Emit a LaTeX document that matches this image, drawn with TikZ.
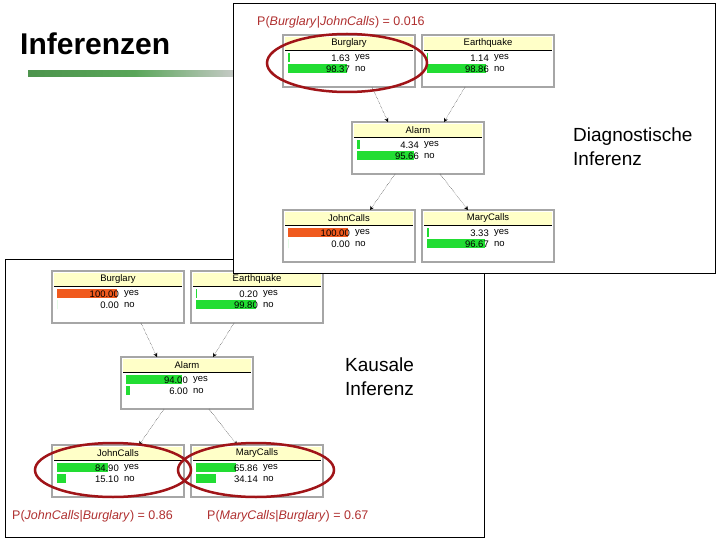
\documentclass[tikz,border=0pt]{standalone}
\usepackage{fontspec}
\setmainfont{Liberation Sans}
\usetikzlibrary{arrows.meta}
\definecolor{hdr}{HTML}{FFFFC8}
\definecolor{bargreen}{HTML}{22DD33}
\definecolor{barorange}{HTML}{F05A1E}
\definecolor{dred}{HTML}{A01418}
\definecolor{lblred}{HTML}{B03030}
\tikzset{
  bnbox/.style={draw=gray!70,line width=1.5pt,fill=white,minimum width=132pt,minimum height=52pt,inner sep=0pt,outer sep=0pt},
  nt/.style={font=\fontsize{9.5}{10}\selectfont,inner sep=0pt},
  conn/.style={densely dotted,thin,-{Stealth[length=4pt,width=4pt]}},
  ell/.style={draw=dred,line width=2.5pt},
  prob/.style={text=lblred,font=\fontsize{12.5}{14}\selectfont,anchor=west,inner sep=0pt},
  big/.style={font=\fontsize{19}{24}\selectfont,align=left,anchor=north west,inner sep=0pt},
  panel/.style={draw=black,line width=1.3pt,fill=white}
}
\newcommand{\bn}[9]{%
  \node[bnbox,anchor=north west] (#1) at (#2,#3) {};
  \fill[hdr] ([shift={(2,2)}]#1.north west) rectangle ([shift={(-2,15)}]#1.north east);
  \draw[black,thin] ([shift={(2,15)}]#1.north west) -- ([shift={(-2,15)}]#1.north east);
  \node[nt] at ([yshift=-8.5pt]#1.north) {#4};
  \fill[#7] ([shift={(5,18)}]#1.north west) rectangle ++(#6,9);
  \node[nt,anchor=east] at ([shift={(67,23)}]#1.north west) {#5};
  \node[nt,anchor=west] at ([shift={(72,23)}]#1.north west) {yes};
  \fill[bargreen] ([shift={(5,29)}]#1.north west) rectangle ++(#9,9);
  \node[nt,anchor=east] at ([shift={(67,34)}]#1.north west) {#8};
  \node[nt,anchor=west] at ([shift={(72,34)}]#1.north west) {no};
}
\begin{document}
\begin{tikzpicture}[x=1pt,y=-1pt]
\useasboundingbox[fill=white] (0,0) rectangle (720,540);
% title
\node[font=\fontsize{30}{34}\selectfont\bfseries,anchor=west,inner sep=0pt] (title) at (20,44) {Inferenzen};
\fill[left color=green!40!black!70,right color=gray!40,middle color=green!30!gray] (28,71) rectangle (240,77);
% bottom panel
\node[panel,anchor=north west,minimum width=479pt,minimum height=278pt,inner sep=0pt] (pb) at (5,259) {};
\bn{Bk}{52}{271}{Burglary}{100.00}{60}{barorange}{0.00}{0}
\bn{Ek}{191}{271}{Earthquake}{0.20}{1}{bargreen}{99.80}{60}
\bn{Ak}{121}{357}{Alarm}{94.00}{56}{bargreen}{6.00}{4}
\bn{Jk}{52}{445}{JohnCalls}{84.90}{51}{bargreen}{15.10}{9}
\bn{Mk}{191}{445}{MaryCalls}{65.86}{40}{bargreen}{34.14}{20}
\draw[conn] ([xshift=23pt]Bk.south) -- ([xshift=-30pt]Ak.north);
\draw[conn] ([xshift=-23pt]Ek.south) -- ([xshift=26pt]Ak.north);
\draw[conn] ([xshift=-23pt]Ak.south) -- ([xshift=21pt]Jk.north);
\draw[conn] ([xshift=22pt]Ak.south) -- ([xshift=-20pt]Mk.north);
\node[big] (kt) at (345,358) {Kausale\\Inferenz};
\draw[ell] (113,470) ellipse [x radius=78,y radius=27];
\draw[ell] (256,470) ellipse [x radius=78,y radius=27];
\node[prob] (pj) at (12,516) {P(\textit{JohnCalls}|\textit{Burglary}) = 0.86};
\node[prob] (pm) at (207,516) {P(\textit{MaryCalls}|\textit{Burglary}) = 0.67};
% top panel
\node[panel,anchor=north west,minimum width=482pt,minimum height=270pt,inner sep=0pt] (pt) at (233,3) {};
\bn{Bd}{283}{35}{Burglary}{1.63}{2}{bargreen}{98.37}{59}
\bn{Ed}{422}{35}{Earthquake}{1.14}{1}{bargreen}{98.86}{59}
\bn{Ad}{352}{122}{Alarm}{4.34}{3}{bargreen}{95.66}{57}
\bn{Jd}{283}{210}{JohnCalls}{100.00}{60}{barorange}{0.00}{0}
\bn{Md}{422}{210}{MaryCalls}{3.33}{2}{bargreen}{96.67}{58}
\draw[conn] ([xshift=23pt]Bd.south) -- ([xshift=-30pt]Ad.north);
\draw[conn] ([xshift=-23pt]Ed.south) -- ([xshift=26pt]Ad.north);
\draw[conn] ([xshift=-23pt]Ad.south) -- ([xshift=21pt]Jd.north);
\draw[conn] ([xshift=22pt]Ad.south) -- ([xshift=-20pt]Md.north);
\node[big] (dt) at (573,128) {Diagnostische\\Inferenz};
\draw[ell] (347,63) ellipse [x radius=80,y radius=29];
\node[prob] (pbj) at (257,22) {P(\textit{Burglary}|\textit{JohnCalls}) = 0.016};
\end{tikzpicture}
\end{document}
